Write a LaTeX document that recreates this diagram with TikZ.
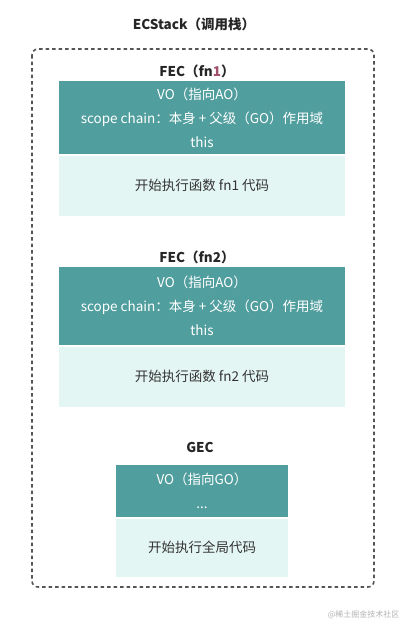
\documentclass[tikz,border=0pt]{standalone}
\usepackage{fontspec}
\setmainfont{Noto Sans CJK SC}
\definecolor{votop}{HTML}{519E9E}
\definecolor{codebg}{HTML}{E4F6F3}
\definecolor{framegray}{HTML}{555555}
\definecolor{fnred}{HTML}{A0506A}
\tikzset{
  ctxlabel/.style={font=\fontsize{13.5}{15}\selectfont\bfseries, text=black!85},
  vobox/.style={fill=votop, draw=none, text=white, align=center, inner sep=0pt,
    font=\fontsize{13.5}{24}\selectfont},
  codebox/.style={fill=codebg, draw=none, text=black!80, inner sep=0pt,
    font=\fontsize{13.5}{15}\selectfont}
}

\begin{document}
\begin{tikzpicture}[x=1pt, y=-1pt]
  \useasboundingbox (0,0) rectangle (405,624);
  % call stack
  \node[ctxlabel] (ecstack) at (194,24) {ECStack（调用栈）};
  \draw[framegray, line width=1.6pt, dash pattern=on 3.5pt off 3pt, rounded corners=6pt]
    (32,49) rectangle (374,587);
  % fn1 context
  \node[ctxlabel] (fec1) at (197,71) {FEC（fn\textcolor{fnred}{1}）};
  \node[vobox, minimum width=286pt, minimum height=73pt] (fec1vo) at (202,117.5)
    {VO（指向AO）\\scope chain：本身 + 父级（GO）作用域\\this};
  \node[codebox, minimum width=286pt, minimum height=60pt] (fec1code) at (202,185.5)
    {开始执行函数 fn1 代码};
  % fn2 context
  \node[ctxlabel] (fec2) at (197,257) {FEC（fn2）};
  \node[vobox, minimum width=286pt, minimum height=78pt] (fec2vo) at (202,306)
    {VO（指向AO）\\scope chain：本身 + 父级（GO）作用域\\this};
  \node[codebox, minimum width=286pt, minimum height=60pt] (fec2code) at (202,376.5)
    {开始执行函数 fn2 代码};
  % global context
  \node[ctxlabel] (gec) at (200,447) {GEC};
  \node[vobox, minimum width=172pt, minimum height=52pt] (gecvo) at (202,491)
    {VO（指向GO）\\...};
  \node[codebox, minimum width=172pt, minimum height=58pt] (geccode) at (202,547.5)
    {开始执行全局代码};
  % watermark
  \node[anchor=east, text=black!30, font=\fontsize{8}{10}\selectfont] (mark) at (403,615)
    {@稀土掘金技术社区};
\end{tikzpicture}
\end{document}
